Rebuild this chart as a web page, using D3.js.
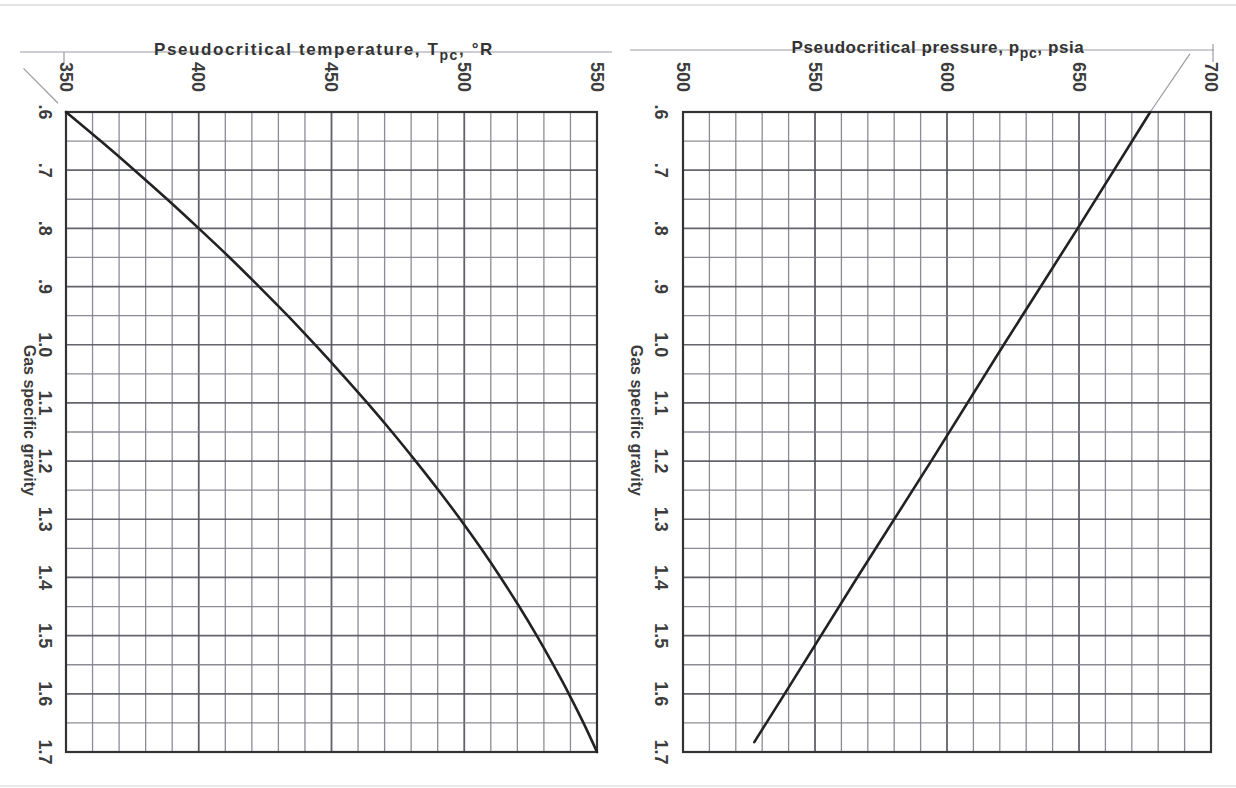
<!DOCTYPE html>
<html>
<head>
<meta charset="utf-8">
<script src="https://cdn.jsdelivr.net/npm/d3@7"></script>
<style>
	body { margin: 0; background: #fff; }
	svg { display: block; font-family: "Liberation Sans", Arial, sans-serif; }
	.tick-label { font-size: 18px; font-weight: bold; fill: #3c3c3c; }
	.title { font-size: 17px; font-weight: bold; fill: #333; }
	.axis-label { font-size: 16px; font-weight: bold; fill: #3c3c3c; }
</style>
</head>
<body>
<svg width="1236" height="788"></svg>
<script>
// gas specific gravity axis (shared)
const gravityTicks = [0.6, 0.7, 0.8, 0.9, 1.0, 1.1, 1.2, 1.3, 1.4, 1.5, 1.6, 1.7];
const gravityLabels = [".6", ".7", ".8", ".9", "1.0", "1.1", "1.2", "1.3", "1.4", "1.5", "1.6", "1.7"];

// left chart: pseudocritical temperature, °R
const tempTicks = [350, 400, 450, 500, 550];
const tempGravity = [0.6, 0.65, 0.7, 0.75, 0.8, 0.85, 0.9, 0.95, 1.0, 1.05, 1.1, 1.15, 1.2, 1.25, 1.3, 1.35, 1.4, 1.45, 1.5, 1.55, 1.6, 1.65, 1.7];
const tempValues = [350, 363.1, 375.8, 388.1, 400, 411.6, 422.7, 433.5, 443.8, 453.8, 463.5, 472.8, 481.7, 490.3, 498.5, 506.3, 513.7, 520.7, 527.3, 533.5, 539.4, 544.9, 550];
const tempExtGravity = [0.525, 0.585];
const tempExtValues = [334, 347];

// right chart: pseudocritical pressure, psia
const pressTicks = [500, 550, 600, 650, 700];
const pressGravity = [0.6, 0.8, 1.0, 1.2, 1.4, 1.6, 1.683];
const pressValues = [677, 649.5, 621.5, 594, 566, 538.5, 527];
const pressExtGravity = [0.6, 0.5];
const pressExtValues = [677, 692];

class Paneel {
	constructor(svg, opts) {
		this.svg = svg;
		this.opts = opts;
		this.x = d3.scaleLinear(opts.domain, [opts.left, opts.right]);
		this.y = d3.scaleLinear([0.6, 1.7], [112, 752]);
		this.teken();
	}

	teken() {
		const { x, y, opts } = this;
		const g = this.svg.append("g");

		// guide line behind the title
		g.append("line")
			.attr("x1", opts.guide[0]).attr("x2", opts.guide[1])
			.attr("y1", opts.guideY).attr("y2", opts.guideY)
			.attr("stroke", "#9a9aa4").attr("stroke-width", 1.2);

		g.append("line")
			.attr("x1", opts.stub).attr("x2", opts.stub)
			.attr("y1", opts.guideY - opts.stubUp).attr("y2", opts.guideY + 12)
			.attr("stroke", "#9a9aa4").attr("stroke-width", 1.2);

		// grid
		const [d0, d1] = opts.domain;
		const xGrid = d3.range(d0, d1 + 1, 10);
		const yGrid = d3.range(0, 23).map(i => 0.6 + i * 0.05);

		g.append("g")
			.selectAll("line")
			.data(xGrid)
			.join("line")
			.attr("x1", d => x(d)).attr("x2", d => x(d))
			.attr("y1", y(0.6)).attr("y2", y(1.7))
			.attr("stroke", d => (d % 50 === 0) ? "#50505a" : "#80808c")
			.attr("stroke-width", d => (d % 50 === 0) ? 1.8 : 1.3)
			.attr("opacity", 0.9);

		g.append("g")
			.selectAll("line")
			.data(yGrid)
			.join("line")
			.attr("x1", x(d0)).attr("x2", x(d1))
			.attr("y1", d => y(d)).attr("y2", d => y(d))
			.attr("stroke", (d, i) => (i % 2 === 0) ? "#55555f" : "#80808c")
			.attr("stroke-width", (d, i) => (i % 2 === 0) ? 1.7 : 1.3)
			.attr("opacity", 0.9);

		// frame
		g.append("rect")
			.attr("x", x(d0)).attr("y", y(0.6))
			.attr("width", x(d1) - x(d0)).attr("height", y(1.7) - y(0.6))
			.attr("fill", "none")
			.attr("stroke", "#333")
			.attr("stroke-width", 2.2);

		// top tick labels, rotated
		g.append("g")
			.selectAll("text")
			.data(opts.ticks)
			.join("text")
			.attr("class", "tick-label")
			.attr("transform", d => `translate(${x(d)},${y(0.6) - 20}) rotate(90)`)
			.attr("text-anchor", "end")
			.attr("dy", ".35em")
			.text(d => d);

		// gravity labels, rotated
		g.append("g")
			.selectAll("text")
			.data(gravityTicks)
			.join("text")
			.attr("class", "tick-label")
			.attr("transform", d => `translate(${opts.left - opts.labelOff},${y(d)}) rotate(90)`)
			.attr("text-anchor", "middle")
			.attr("dy", ".35em")
			.text((d, i) => gravityLabels[i]);

		g.append("text")
			.attr("class", "axis-label")
			.attr("transform", `translate(${opts.left - opts.nameOff},${y(1.0)}) rotate(90)`)
			.attr("text-anchor", "start")
			.attr("dy", ".35em")
			.text("Gas specific gravity");

		// title
		const t = g.append("text")
			.attr("class", "title")
			.attr("x", opts.titleX)
			.attr("y", opts.titleY)
			.attr("letter-spacing", opts.spacing)
			.attr("text-anchor", "middle");
		t.append("tspan").text(opts.title[0]);
		t.append("tspan").attr("dy", 5).attr("font-size", 14).text("pc");
		t.append("tspan").attr("dy", -5).text(opts.title[1]);

		// curves
		const line = d3.line()
			.curve(opts.curve)
			.x(d => x(d[1]))
			.y(d => y(d[0]));

		g.append("path")
			.attr("fill", "none")
			.attr("stroke", "#9a9aa4")
			.attr("stroke-width", 1.2)
			.attr("d", d3.line().x(d => x(d[1])).y(d => y(d[0]))(d3.zip(opts.extGravity, opts.extValues)));

		g.append("path")
			.attr("fill", "none")
			.attr("stroke", "#222")
			.attr("stroke-width", 2.6)
			.attr("stroke-linecap", "round")
			.attr("d", line(d3.zip(opts.gravity, opts.values)));
	}
}

const svg = d3.select("svg");

// faint page edges from the scan
svg.append("line").attr("x1", 0).attr("x2", 1236).attr("y1", 5).attr("y2", 5)
	.attr("stroke", "#c8c8cc").attr("stroke-width", 1);
svg.append("line").attr("x1", 0).attr("x2", 1236).attr("y1", 786).attr("y2", 786)
	.attr("stroke", "#d4d4d8").attr("stroke-width", 1);

new Paneel(svg, {
	domain: [350, 550], left: 66, right: 597,
	ticks: tempTicks,
	gravity: tempGravity, values: tempValues,
	extGravity: tempExtGravity, extValues: tempExtValues,
	curve: d3.curveMonotoneY,
	title: ["Pseudocritical temperature, T", ", °R"],
	titleX: 324, titleY: 55, spacing: 1.6,
	guide: [20, 612], guideY: 52, stub: 64, stubUp: 0,
	labelOff: 21, nameOff: 36
});

new Paneel(svg, {
	domain: [500, 700], left: 683, right: 1211,
	ticks: pressTicks,
	gravity: pressGravity, values: pressValues,
	extGravity: pressExtGravity, extValues: pressExtValues,
	curve: d3.curveLinear,
	title: ["Pseudocritical pressure, p", ", psia"],
	titleX: 938, titleY: 53, spacing: 0.6,
	guide: [630, 1214], guideY: 50, stub: 1213, stubUp: 6,
	labelOff: 22, nameOff: 46
});
</script>
</body>
</html>
